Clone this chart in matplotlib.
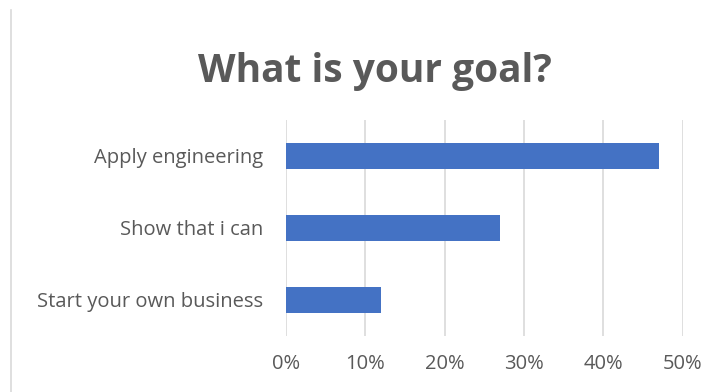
import matplotlib.pyplot as plt
from matplotlib.ticker import PercentFormatter

# survey answers, bottom to top
answers = ["Start your own business", "Show that i can", "Apply engineering"]
shares = [0.12, 0.27, 0.47]
ticks = [0, 0.1, 0.2, 0.3, 0.4, 0.5]

text_color = "#595959"
plt.rcParams['font.family'] = ['Open Sans', 'DejaVu Sans']

fig = plt.figure(figsize=(7.18, 3.92), dpi=100)
ax = fig.add_axes([0.398, 0.143, 0.553, 0.551])

ax.barh(answers, shares, height=0.36, color="#4472C4", zorder=3)
ax.set_xlim(0, 0.5)
ax.set_ylim(-0.5, 2.5)
ax.set_xticks(ticks)
ax.xaxis.set_major_formatter(PercentFormatter(1.0, decimals=0))
ax.grid(axis='x', color="#d9d9d9", linewidth=1.2, zorder=0)
ax.tick_params(length=0, labelsize=14.5, colors=text_color)
ax.tick_params(axis='x', pad=13)
ax.tick_params(axis='y', pad=16)
for s in ax.spines.values():
    s.set_visible(False)

fig.text(0.522, 0.818, "What is your goal?", ha='center', va='center',
         fontsize=28, fontweight='bold', color=text_color)

# left edge of the chart frame
fig.add_artist(plt.Line2D([0.016, 0.016], [0, 0.975], color="#d9d9d9", linewidth=1.2))

fig.savefig("out.png", dpi=100)
